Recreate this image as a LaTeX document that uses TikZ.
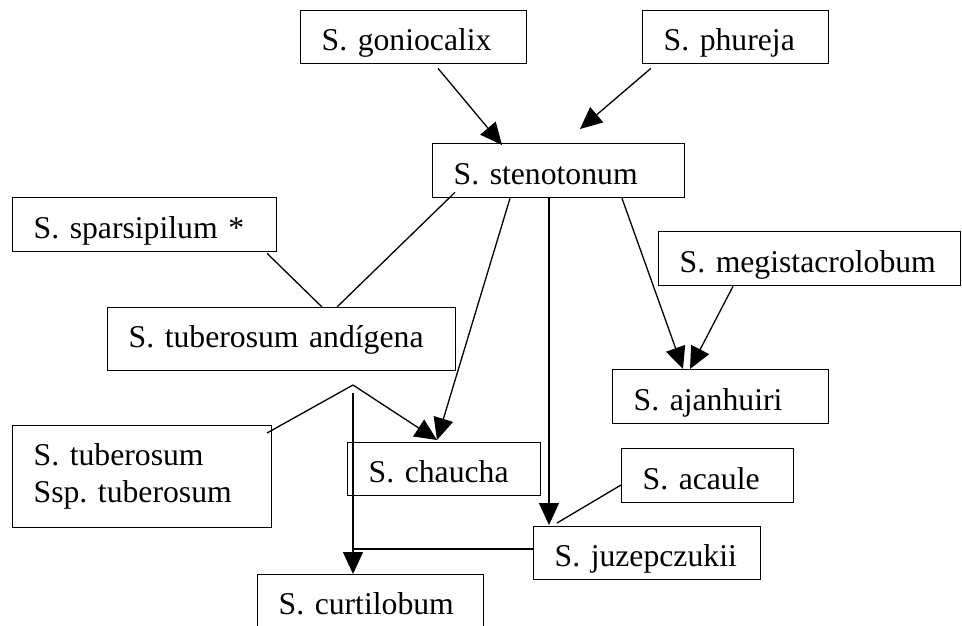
\documentclass[tikz,border=0pt]{standalone}
\usepackage{fontspec}
\setmainfont{Liberation Serif}
\usetikzlibrary{arrows.meta, calc}

\begin{document}
\begin{tikzpicture}[x=1pt, y=-1pt, font=\fontsize{31.7}{37}\selectfont,
    box/.style={draw, line width=1.3pt, anchor=north west, align=left,
      inner xsep=21pt, inner ysep=0pt, text height=27pt, text depth=0pt},
    link/.style={line width=1.3pt},
    arr/.style={line width=1.3pt, -{Triangle[length=22pt, width=20pt]}}]
    \useasboundingbox (0,0) rectangle (962,625);

    % species boxes
    \node[box, minimum width=226, text width=184pt, minimum height=53] (gonio) at (300,10) {S.~goniocalix};
    \node[box, minimum width=186, text width=144pt, minimum height=53] (phureja) at (642,10) {S.~phureja};
    \node[box, minimum width=252, text width=210pt, minimum height=54] (steno) at (432,143) {S.~stenotonum};
    \node[box, minimum width=264, text width=222pt, minimum height=54] (sparsi) at (12,197) {S.~sparsipilum~*};
    \node[box, minimum width=348, text width=306pt, minimum height=63, text depth=10pt] (andig) at (107,307) {S.~tuberosum~andígena};
    \node[box, minimum width=302, text width=260pt, minimum height=54] (megist) at (658,231) {S.~megistacrolobum};
    \node[box, minimum width=216, text width=174pt, minimum height=54] (ajan) at (612,369) {S.~ajanhuiri};
    \node[box, minimum width=259, text width=217pt, minimum height=102, text depth=49pt] (tubssp) at (12,425) {S.~tuberosum\\Ssp.~tuberosum};
    \node[box, minimum width=193, text width=151pt, minimum height=53] (chaucha) at (347,442) {S.~chaucha};
    \node[box, minimum width=172, text width=130pt, minimum height=54] (acaule) at (621,448) {S.~acaule};
    \node[box, minimum width=227, text width=185pt, minimum height=53] (juzep) at (533,526) {S.~juzepczukii};
    \node[box, minimum width=226, text width=184pt, minimum height=53] (curt) at (257,574) {S.~curtilobum};

    % origins of stenotonum
    \draw[arr] ($(gonio.south west)+(138,4)$) -- ($(steno.north west)+(70,2)$);
    \draw[arr] ($(phureja.south west)+(9,4)$) -- ($(steno.north west)+(148,-14)$);

    % andigena
    \draw[link] ($(sparsi.south west)+(255,1)$) -- ($(andig.north west)+(215,0)$);
    \draw[link] ($(steno.south west)+(23,-6)$) -- ($(andig.north west)+(230,0)$);

    % from stenotonum
    \draw[arr] ($(steno.south west)+(78,0)$) -- ($(chaucha.north west)+(90,-2)$);
    \draw[arr] ($(steno.south west)+(117,0)$) -- ($(juzep.north west)+(16,-1)$);
    \draw[arr] ($(steno.south west)+(190,0)$) -- ($(ajan.north west)+(71,0)$);
    \draw[arr] ($(megist.south west)+(75,0)$) -- ($(ajan.north west)+(78,0)$);

    % fork below andigena
    \coordinate (fork) at (353,385);
    \draw[link] ($(tubssp.north west)+(255,8)$) -- (fork);
    \draw[arr] (fork) -- ($(chaucha.north west)+(90,-2)$);
    \draw[arr] ($(fork)+(0,8)$) -- ($(curt.north west)+(96,0)$);
    \coordinate (join) at ($(juzep.north west)+(0,23)$);
    \draw[link] (join) -- (fork |- join);
    \draw[link] ($(acaule.north west)+(0,37)$) -- ($(juzep.north west)+(24,-3)$);
\end{tikzpicture}
\end{document}
